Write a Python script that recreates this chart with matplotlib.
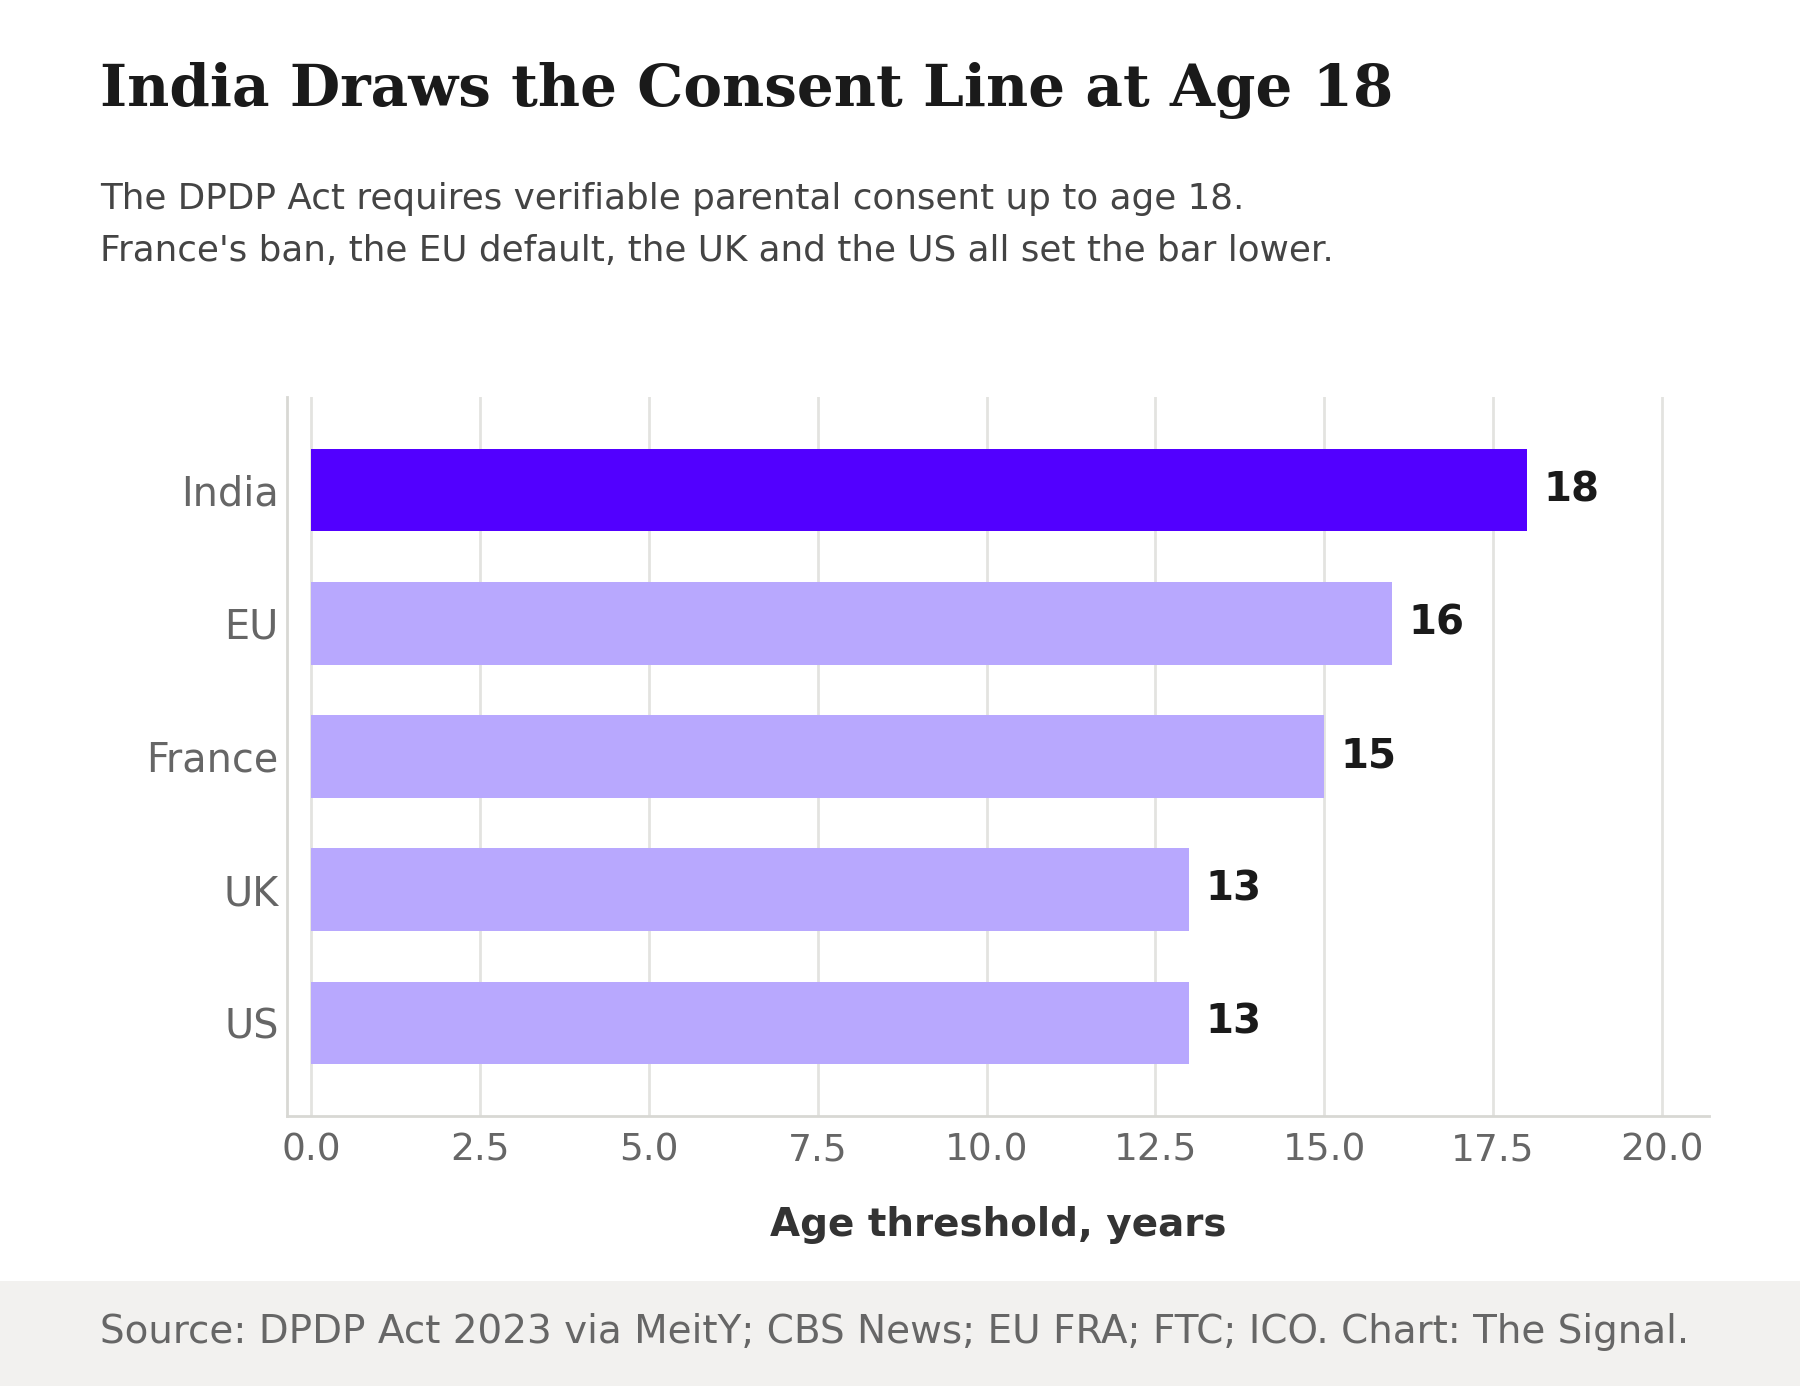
import matplotlib
matplotlib.use("Agg")
import matplotlib.pyplot as plt
from matplotlib.patches import Rectangle

# Data
countries = ["India", "EU", "France", "UK", "US"]
ages = [18, 16, 15, 13, 13]
highlight = "India"
x_ticks = [0.0, 2.5, 5.0, 7.5, 10.0, 12.5, 15.0, 17.5, 20.0]

title = "India Draws the Consent Line at Age 18"
subtitle_lines = [
    "The DPDP Act requires verifiable parental consent up to age 18.",
    "France's ban, the EU default, the UK and the US all set the bar lower.",
]
source = "Source: DPDP Act 2023 via MeitY; CBS News; EU FRA; FTC; ICO. Chart: The Signal."
xlabel = "Age threshold, years"

W, H, DPI = 1800, 1386, 200
fig = plt.figure(figsize=(W / DPI, H / DPI), dpi=DPI)
fig.patch.set_facecolor("white")

def fx(px):
    return px / W

def fy(py):
    return 1 - py / H

# footer band
fig.patches.append(Rectangle((0, 0), 1, fy(1281), transform=fig.transFigure,
                             facecolor="#f2f1ef", edgecolor="none", zorder=0))

left, right, top, bottom = 287, 1709, 397, 1116
ax = fig.add_axes([fx(left), fy(bottom), fx(right - left), fy(top) - fy(bottom)])

ypos = list(range(len(countries)))
colors = ["#5200ff" if c == highlight else "#b8a8fe" for c in countries]
bars = ax.barh(ypos, ages, height=0.62, color=colors, zorder=3)
for y, v in zip(ypos, ages):
    ax.annotate(f"{v}", xy=(v, y), xytext=(6, 0), textcoords="offset points",
                ha="left", va="center", fontsize=14.5, fontweight="bold",
                color="#1a1a1a", zorder=4)

ax.set_yticks(ypos)
ax.set_yticklabels(countries)
ax.set_xticks(x_ticks)
ax.set_xticklabels([f"{t:.1f}" for t in x_ticks])
ax.set_xlim(-0.36, 20.7)
ax.set_ylim(4.7, -0.7)

ax.grid(axis="x", color="#e3e3e0", linewidth=1.0, zorder=0)
ax.grid(axis="y", visible=False)
ax.set_axisbelow(True)
for s in ["top", "right"]:
    ax.spines[s].set_visible(False)
for s in ["left", "bottom"]:
    ax.spines[s].set_color("#d8d8d4")
    ax.spines[s].set_linewidth(1.0)

ax.tick_params(axis="y", length=0, pad=3, labelsize=14.3, labelcolor="#666666")
ax.tick_params(axis="x", length=0, pad=6, labelsize=13.5, labelcolor="#666666")
ax.set_xlabel(xlabel, fontsize=14, fontweight="bold", color="#333333", labelpad=13.5)

fig.text(fx(100), fy(106), title, family="DejaVu Serif", fontweight="bold",
         fontsize=20.9, color="#1a1a1a", ha="left", va="baseline")
fig.text(fx(100), fy(209), subtitle_lines[0], fontsize=12.9, color="#444444",
         ha="left", va="baseline")
fig.text(fx(100), fy(261), subtitle_lines[1], fontsize=12.9, color="#444444",
         ha="left", va="baseline")
fig.text(fx(100), fy(1343), source, fontsize=14, color="#666666",
         ha="left", va="baseline")

fig.savefig("out.png", dpi=DPI)
